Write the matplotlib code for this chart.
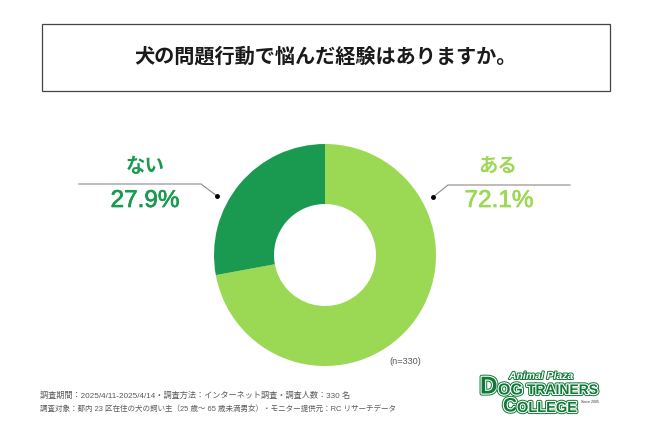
import matplotlib
matplotlib.use("Agg")
import matplotlib.pyplot as plt
import matplotlib.patheffects as pe
from matplotlib.patches import Rectangle

plt.rcParams['font.family'] = ['Liberation Sans', 'Noto Sans CJK JP', 'DejaVu Sans']

title = "犬の問題行動で悩んだ経験はありますか。"
categories = ["ある", "ない"]
values = [72.1, 27.9]
colors = ["#9bd955", "#1a9a50"]
note_n = "(n=330)"
note1 = "調査期間：2025/4/11-2025/4/14・調査方法：インターネット調査・調査人数：330 名"
note2 = "調査対象：都内 23 区在住の犬の飼い主（25 歳～ 65 歳未満男女）・モニター提供元：RC リサーチデータ"

logo_green = "#0f7a35"
grey = "#5a5a5a"

fig = plt.figure(figsize=(6.5, 4.34), dpi=100)
ax = fig.add_axes([0, 0, 1, 1])

# Donut, in pixel coordinates. y axis is inverted, so angles run mirrored
ax.pie(values, colors=colors, startangle=-90, counterclock=True,
       center=(325, 255), radius=111,
       wedgeprops=dict(width=60, edgecolor="none"))

ax.set_xlim(0, 650)
ax.set_ylim(434, 0)
ax.set_aspect("auto")
ax.axis("off")

# Title box
ax.add_patch(Rectangle((42, 24), 568, 67, facecolor="white", edgecolor="#444444", linewidth=0.9))
ax.text(325, 57, title, ha="center", va="center", fontsize=14.5, fontweight="bold", color="#1a1a1a")

# Left label
pct_effect = [pe.Stroke(linewidth=0.5, foreground=colors[1]), pe.Normal()]
ax.plot([79, 201, 217], [184, 184, 196], color="#8a8a8a", linewidth=0.8)
ax.plot([217], [196], "o", color="black", markersize=2.5)
ax.text(145, 167, categories[1], ha="center", va="center", fontsize=14, fontweight="bold", color=colors[1])
ax.text(145, 201, f"{values[1]}%", ha="center", va="center", fontsize=17.5,
        color=colors[1], path_effects=pct_effect)

# Right label
pct_effect = [pe.Stroke(linewidth=0.5, foreground=colors[0]), pe.Normal()]
ax.plot([433, 448, 570], [197, 185, 185], color="#8a8a8a", linewidth=0.8)
ax.plot([433], [197], "o", color="black", markersize=2.5)
ax.text(498, 167, categories[0], ha="center", va="center", fontsize=14, fontweight="bold", color=colors[0])
ax.text(499, 201, f"{values[0]}%", ha="center", va="center", fontsize=17.5,
        color=colors[0], path_effects=pct_effect)

# Notes
ax.text(389, 362, note_n, ha="left", va="center", fontsize=6.6, color=grey)
ax.text(40, 396, note1, ha="left", va="center", fontsize=5.9, color=grey)
ax.text(40, 409, note2, ha="left", va="center", fontsize=5.45, color=grey)

# Logo
outline = [pe.Stroke(linewidth=3.0, foreground=logo_green),
           pe.Stroke(linewidth=1.6, foreground="white"), pe.Normal()]
ax.text(541, 376, "Animal Plaza", ha="center", va="center", fontsize=7.5, fontweight="bold", style="italic",
        color="white", path_effects=[pe.Stroke(linewidth=1.4, foreground=logo_green), pe.Normal()])
ax.text(480, 387, "D", ha="left", va="center", fontsize=17.5, fontweight="bold",
        color=logo_green, path_effects=outline)
ax.text(498, 390, "OG", ha="left", va="center", fontsize=11.5, fontweight="bold",
        color=logo_green, path_effects=outline)
ax.text(527, 390, "TRAINERS", ha="left", va="center", fontsize=10, fontweight="bold",
        color=logo_green, path_effects=outline)
ax.text(503, 407, "C", ha="left", va="center", fontsize=14, fontweight="bold",
        color=logo_green, path_effects=outline)
ax.text(517, 408, "OLLEGE", ha="left", va="center", fontsize=10.5, fontweight="bold",
        color=logo_green, path_effects=outline)
ax.text(581, 402, "Since 2005", ha="left", va="center", fontsize=2.6, color="#333333")

fig.savefig("out.png", dpi=100, facecolor="white")
